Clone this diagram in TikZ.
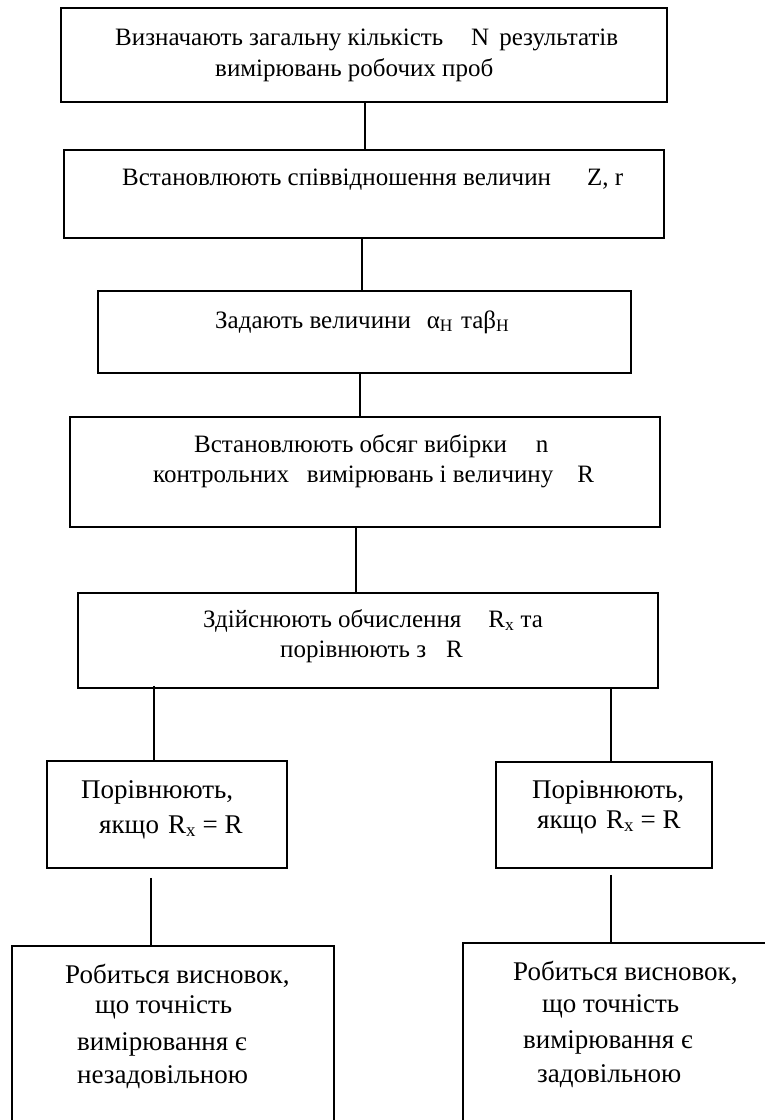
\documentclass[tikz,border=0pt]{standalone}
\usepackage{fontspec}
\setmainfont{Liberation Serif}
\begin{document}
\begin{tikzpicture}[x=1pt,y=-1pt,
  box/.style={draw, line width=1.8pt, inner sep=0pt, minimum width=#1},
  conn/.style={line width=1.1pt},
  txt/.style={anchor=base west, inner sep=0pt, font=\fontsize{25}{30}\selectfont},
  txtb/.style={anchor=base west, inner sep=0pt, font=\fontsize{27}{32}\selectfont}]
\useasboundingbox (0,0) rectangle (765,1120);
% boxes
\node[box=606pt, minimum height=94pt] (b1) at (364,55) {};
\node[box=600pt, minimum height=88pt] (b2) at (364,194) {};
\node[box=533pt, minimum height=82pt] (b3) at (364.5,332) {};
\node[box=590pt, minimum height=110pt] (b4) at (365,472) {};
\node[box=580pt, minimum height=95pt] (b5) at (368,640.5) {};
\node[box=240pt, minimum height=107pt] (b6) at (167,814.5) {};
\node[box=216pt, minimum height=106pt] (b8) at (604,815) {};
\node[box=322pt, minimum height=220pt] (b7) at (173,1056) {};
\node[box=340pt, minimum height=220pt] (b9) at (633,1053) {};
% texts
\node[txt] (t1a) at (115,45) {Визначають загальну кількість\hspace{28pt}N\hspace{10pt}результатів};
\node[txt] (t1b) at (215,76) {вимірювань робочих проб};
\node[txt] (t2) at (122,185) {Встановлюють співвідношення величин\hspace{36pt}Z, r};
\node[txt] (t3) at (215,328) {Задають величини\hspace{16pt}α\textsubscript{H}\hspace{8pt}таβ\textsubscript{H}};
\node[txt] (t4a) at (194,452) {Встановлюють обсяг вибірки\hspace{29pt}n};
\node[txt] (t4b) at (153,482) {контрольних\hspace{18pt}вимірювань і величину\hspace{24pt}R};
\node[txt] (t5a) at (203,627) {Здійснюють обчислення\hspace{27pt}R\textsubscript{x} та};
\node[txt] (t5b) at (280,657) {порівнюють з\hspace{20pt}R};
\node[txtb] (t6a) at (81,798) {Порівнюють,};
\node[txtb] (t6b) at (99,833) {якщо\hspace{9pt}R\textsubscript{x} = R};
\node[txtb] (t8a) at (532,798) {Порівнюють,};
\node[txtb] (t8b) at (537,828) {якщо\hspace{9pt}R\textsubscript{x} = R};
\node[txtb] (t7a) at (65,983) {Робиться висновок,};
\node[txtb] (t7b) at (95,1013) {що точність};
\node[txtb] (t7c) at (77,1050) {вимірювання є};
\node[txtb] (t7d) at (77,1083) {незадовільною};
\node[txtb] (t9a) at (513,980) {Робиться висновок,};
\node[txtb] (t9b) at (542,1012) {що точність};
\node[txtb] (t9c) at (523,1048) {вимірювання є};
\node[txtb] (t9d) at (537,1082) {задовільною};
% connectors
\draw[conn] (b1.south -| 365,0) -- (b2.north -| 365,0);
\draw[conn] (b2.south -| 362,0) -- (b3.north -| 362,0);
\draw[conn] (b3.south -| 360,0) -- (b4.north -| 360,0);
\draw[conn] (b4.south -| 356,0) -- (b5.north -| 356,0);
\draw[conn] ([yshift=3pt]b5.south -| 154,0) -- (b6.north -| 154,0);
\draw[conn] (b5.south -| 611,0) -- (b8.north -| 611,0);
\draw[conn] ([yshift=-9pt]b6.south -| 151,0) -- (b7.north -| 151,0);
\draw[conn] ([yshift=-6pt]b8.south -| 611,0) -- (b9.north -| 611,0);
\end{tikzpicture}
\end{document}
